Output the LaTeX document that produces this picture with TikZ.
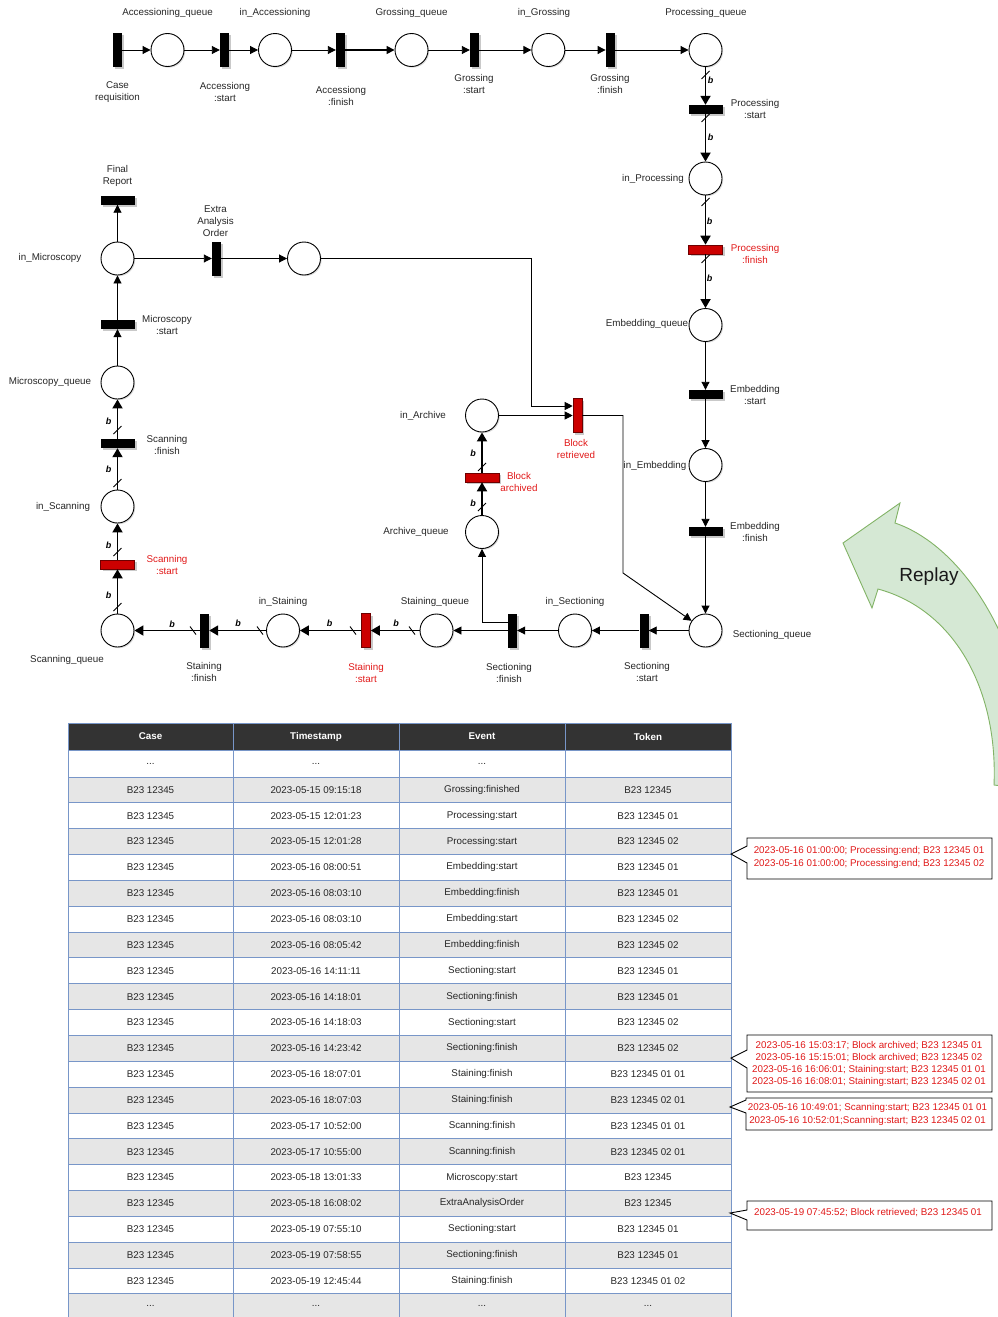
\documentclass[tikz,border=0pt]{standalone}
\usepackage{fontspec}
\setmainfont{Liberation Sans}
\usetikzlibrary{arrows.meta,shadows,calc}
\definecolor{redfill}{RGB}{204,0,0}
\definecolor{redline}{RGB}{110,0,0}
\definecolor{redtext}{RGB}{225,25,25}
\definecolor{gridblue}{RGB}{120,150,200}
\definecolor{hdr}{RGB}{51,51,51}
\definecolor{rowgray}{RGB}{230,230,230}
\definecolor{repfill}{RGB}{213,232,212}
\definecolor{repline}{RGB}{130,179,102}
\tikzset{
 sh/.style={drop shadow={shadow xshift=2pt,shadow yshift=-2pt,opacity=0.3,fill=black!70}},
 psh/.style={drop shadow={shadow xshift=1.2pt,shadow yshift=-1.2pt,opacity=0.2,fill=black!70}},
 place/.style={circle,draw,fill=white,minimum size=33pt,inner sep=0pt,line width=0.9pt,psh},
 tv/.style={rectangle,fill=black,minimum width=9pt,minimum height=34pt,inner sep=0pt,sh},
 th/.style={rectangle,fill=black,minimum width=34pt,minimum height=9pt,inner sep=0pt,sh},
 rtr/.style={fill=redfill,draw=redline,line width=0.6pt},
 lab/.style={font=\fontsize{9.8}{12}\selectfont,align=center,inner sep=0pt,text=black!85},
 rlab/.style={lab,text=redtext},
 blab/.style={font=\fontsize{9}{10}\selectfont\bfseries\itshape,inner sep=0pt},
 arc/.style={line width=0.9pt,-{Triangle[length=8pt,width=8pt]}},
 barc/.style={line width=1.8pt,-{Triangle[length=9pt,width=10pt]}},
 slashln/.style={line width=0.9pt},
 cell/.style={font=\fontsize{9.8}{12}\selectfont,inner sep=0pt,text=black!85},
 hcell/.style={font=\fontsize{9.8}{12}\selectfont\bfseries,inner sep=0pt,text=white},
 ctext/.style={font=\fontsize{9.8}{12.2}\selectfont,text=redtext,align=center,inner sep=0pt},
 callout/.style={draw=black,fill=white,line width=0.9pt},
}
\begin{document}
\begin{tikzpicture}[x=1pt,y=-1pt]
\useasboundingbox (0,0) rectangle (998,1317);
\clip (0,0) rectangle (998,1317);

% ---------- top row ----------
\node[tv] (cr) at (117.5,50) {};
\node[place] (aq) at (167.5,50) {};
\node[tv] (as) at (224.5,50) {};
\node[place] (ia) at (275,50) {};
\node[tv] (af) at (340.5,50) {};
\node[place] (gq) at (411.5,50) {};
\node[tv] (gs) at (474.5,50) {};
\node[place] (ig) at (548.3,50) {};
\node[tv] (gf) at (610.3,50) {};
\node[place] (pq) at (705.5,50) {};
% ---------- right column ----------
\node[th] (ps) at (705.5,109.5) {};
\node[place] (ip) at (705.5,178.5) {};
\node[th,rtr] (pf) at (705.5,249.5) {};
\node[place] (eq) at (705.5,325) {};
\node[th] (es) at (705.5,394.5) {};
\node[place] (ie) at (705.5,465) {};
\node[th] (ef) at (705.5,531.5) {};
\node[place] (sq) at (705.5,630.5) {};
% ---------- bottom row ----------
\node[tv] (ss) at (644,630.5) {};
\node[place] (is) at (575,630.5) {};
\node[tv] (sf) at (512.5,630.5) {};
\node[place] (stq) at (436.5,630.5) {};
\node[tv,rtr] (sts) at (366,630.5) {};
\node[place] (ist) at (283,630.5) {};
\node[tv] (stf) at (204.5,630.5) {};
\node[place] (scq) at (117.5,630.5) {};
% ---------- left column ----------
\node[th,rtr] (scs) at (117.5,564.5) {};
\node[place] (isc) at (117.5,506.5) {};
\node[th] (scf) at (117.5,443.5) {};
\node[place] (mq) at (117.5,382.5) {};
\node[th] (ms) at (117.5,324.5) {};
\node[place] (im) at (117.5,258.5) {};
\node[th] (fr) at (117.5,200) {};
\node[tv] (eao) at (216.5,258.5) {};
\node[place] (px) at (304,258.5) {};
% ---------- archive ----------
\node[place] (ina) at (482,415.5) {};
\node[th,rtr] (ba) at (482,477.5) {};
\node[place] (arq) at (482,532) {};
\node[tv,rtr] (br) at (577.5,415.5) {};

% ---------- connectors ----------
\draw[arc] (cr) -- (aq);
\draw[arc] (aq) -- (as);
\draw[arc] (as) -- (ia);
\draw[arc] (ia) -- (af);
\draw[arc,line width=1.6pt] (af) -- (gq);
\draw[arc] (gq) -- (gs);
\draw[arc] (gs) -- (ig);
\draw[arc] (ig) -- (gf);
\draw[arc] (gf) -- (pq);
\draw[barc] (pq) -- (ps);
\draw[barc] (ps) -- (ip);
\draw[barc] (ip) -- (pf);
\draw[barc] (pf) -- (eq);
\draw[arc] (eq) -- (es);
\draw[arc] (es) -- (ie);
\draw[arc] (ie) -- (ef);
\draw[arc] (ef) -- (sq);
\draw[arc] (sq) -- (ss);
\draw[arc] (ss) -- (is);
\draw[arc] (is) -- (sf);
\draw[arc] (sf) -- (stq);
\draw[barc] (stq) -- (sts);
\draw[barc] (sts) -- (ist);
\draw[barc] (ist) -- (stf);
\draw[barc] (stf) -- (scq);
\draw[barc] (scq) -- (scs);
\draw[barc] (scs) -- (isc);
\draw[barc] (isc) -- (scf);
\draw[barc] (scf) -- (mq);
\draw[arc] (mq) -- (ms);
\draw[arc] (ms) -- (im);
\draw[arc] (im) -- (fr);
\draw[arc] (im) -- (eao);
\draw[arc] (eao) -- (px);
\coordinate (k1) at (531,406);
\draw[arc] (px.east) -| (k1) -- (k1 -| br.west);
\draw[arc] (ina) -- (br);
\coordinate (k2) at (623,415.5);
\coordinate (k3) at (623,573);
\draw[arc] (br.east) -- (k2) -- (k3) -- (sq);
\draw[arc] ([yshift=8pt]sf.west) -| (arq.south);
\draw[barc] (arq) -- (ba);
\draw[barc] (ba) -- (ina);

% ---------- slashes ----------
\foreach \x/\y in {705.5/75,705.5/118,705.5/202,705.5/259,117.5/607,117.5/552,117.5/483,117.5/430,482/507,482/467}
  \draw[slashln] (\x-4,\y+4) -- (\x+4,\y-4);
\foreach \x/\y in {193/630.5,260/630.5,353/630.5,412/630.5}
  \draw[slashln] (\x-3,\y-4) -- (\x+3,\y+4);

% ---------- b labels ----------
\node[blab] (b1) at (710.5,80) {b};
\node[blab] (b2) at (710.5,137) {b};
\node[blab] (b3) at (709.5,221) {b};
\node[blab] (b4) at (709.5,278) {b};
\node[blab] (b5) at (108.5,595) {b};
\node[blab] (b6) at (108.5,545) {b};
\node[blab] (b7) at (108.5,469) {b};
\node[blab] (b8) at (108.5,421) {b};
\node[blab] (b9) at (473,503) {b};
\node[blab] (b10) at (473,453.5) {b};
\node[blab] (b11) at (172,624) {b};
\node[blab] (b12) at (238,623.5) {b};
\node[blab] (b13) at (329.5,623.5) {b};
\node[blab] (b14) at (396,623.5) {b};

% ---------- labels ----------
\node[lab] (l1) at (167.5,13) {Accessioning\_queue};
\node[lab] (l2) at (275,13) {in\_Accessioning};
\node[lab] (l3) at (411.5,13) {Grossing\_queue};
\node[lab] (l4) at (544,13) {in\_Grossing};
\node[lab] (l5) at (706,13) {Processing\_queue};
\node[lab] (l6) at (117.5,92) {Case\\requisition};
\node[lab] (l7) at (225,92) {Accessiong\\:start};
\node[lab] (l8) at (341,96) {Accessiong\\:finish};
\node[lab] (l9) at (474,83.5) {Grossing\\:start};
\node[lab] (l10) at (610,83.5) {Grossing\\:finish};
\node[lab] (l11) at (755,109) {Processing\\:start};
\node[lab] (l12) at (653,179) {in\_Processing};
\node[rlab] (l13) at (755,254) {Processing\\:finish};
\node[lab] (l14) at (647,324) {Embedding\_queue};
\node[lab] (l15) at (755,395) {Embedding\\:start};
\node[lab] (l16) at (655,465.5) {in\_Embedding};
\node[lab] (l17) at (755,531.5) {Embedding\\:finish};
\node[lab] (l18) at (772,635) {Sectioning\_queue};
\node[lab] (l19) at (283,602) {in\_Staining};
\node[lab] (l20) at (435,602) {Staining\_queue};
\node[lab] (l21) at (575,602) {in\_Sectioning};
\node[rlab] (l22) at (366,673) {Staining\\:start};
\node[lab] (l23) at (509,673) {Sectioning\\:finish};
\node[lab] (l24) at (647,672) {Sectioning\\:start};
\node[lab] (l25) at (204,672) {Staining\\:finish};
\node[lab] (l26) at (67,660) {Scanning\_queue};
\node[lab] (l27) at (50,382) {Microscopy\_queue};
\node[lab] (l28) at (167,445) {Scanning\\:finish};
\node[lab] (l29) at (63,507) {in\_Scanning};
\node[rlab] (l30) at (167,565) {Scanning\\:start};
\node[lab] (l31) at (167,325) {Microscopy\\:start};
\node[lab] (l32) at (50,258) {in\_Microscopy};
\node[lab] (l33) at (117.5,175.5) {Final\\Report};
\node[lab] (l34) at (215.5,221) {Extra\\Analysis\\Order};
\node[lab] (l35) at (423,416) {in\_Archive};
\node[rlab] (l36) at (519,482) {Block\\archived};
\node[rlab] (l37) at (576,448.5) {Block\\retrieved};
\node[lab] (l38) at (416,532) {Archive\_queue};

% ---------- replay arrow ----------
\draw[fill=repfill,draw=repline,line width=0.9pt] (843,543) -- (900,503) -- (895,523)
  .. controls (960,545) and (1030,640) .. (1035,790) -- (994,785)
  .. controls (998,690) and (955,610) .. (878,589) -- (872,608) -- cycle;
\node[font=\fontsize{19}{22}\selectfont,inner sep=0pt,text=black!90] (rep) at (929,577) {Replay};

% ---------- table ----------
\fill[hdr] (68,723) rectangle (731,750);
\foreach \k in {2,4,...,22}
  \fill[rowgray] (68,{777+(\k-2)*25.84}) rectangle (731,{777+(\k-1)*25.84});
\draw[gridblue,line width=0.8pt] (68,723) -- (731,723);
\draw[gridblue,line width=0.8pt] (68,750) -- (731,750);
\foreach \k in {1,...,21}
  \draw[gridblue,line width=0.8pt] (68,{777+(\k-1)*25.84}) -- (731,{777+(\k-1)*25.84});
\foreach \x in {68,233,399,565,731}
  \draw[gridblue,line width=0.8pt] (\x,723) -- (\x,1322);
\node[hcell] (h1) at (150.5,736.5) {Case};
\node[hcell] (h2) at (316,736.5) {Timestamp};
\node[hcell] (h3) at (482,736.5) {Event};
\node[hcell] (h4) at (648,736.5) {Token};
\node[cell] (t1a) at (150.5,763.5) {...};
\node[cell] (t1b) at (316,763.5) {...};
\node[cell] (t1c) at (482,763.5) {...};
\foreach \k/\ca/\cb/\cc/\cd in {
 2/B23 12345/2023-05-15 09:15:18/Grossing:finished/B23 12345,
 3/B23 12345/2023-05-15 12:01:23/Processing:start/B23 12345 01,
 4/B23 12345/2023-05-15 12:01:28/Processing:start/B23 12345 02,
 5/B23 12345/2023-05-16 08:00:51/Embedding:start/B23 12345 01,
 6/B23 12345/2023-05-16 08:03:10/Embedding:finish/B23 12345 01,
 7/B23 12345/2023-05-16 08:03:10/Embedding:start/B23 12345 02,
 8/B23 12345/2023-05-16 08:05:42/Embedding:finish/B23 12345 02,
 9/B23 12345/2023-05-16 14:11:11/Sectioning:start/B23 12345 01,
 10/B23 12345/2023-05-16 14:18:01/Sectioning:finish/B23 12345 01,
 11/B23 12345/2023-05-16 14:18:03/Sectioning:start/B23 12345 02,
 12/B23 12345/2023-05-16 14:23:42/Sectioning:finish/B23 12345 02,
 13/B23 12345/2023-05-16 18:07:01/Staining:finish/B23 12345 01 01,
 14/B23 12345/2023-05-16 18:07:03/Staining:finish/B23 12345 02 01,
 15/B23 12345/2023-05-17 10:52:00/Scanning:finish/B23 12345 01 01,
 16/B23 12345/2023-05-17 10:55:00/Scanning:finish/B23 12345 02 01,
 17/B23 12345/2023-05-18 13:01:33/Microscopy:start/B23 12345,
 18/B23 12345/2023-05-18 16:08:02/ExtraAnalysisOrder/B23 12345,
 19/B23 12345/2023-05-19 07:55:10/Sectioning:start/B23 12345 01,
 20/B23 12345/2023-05-19 07:58:55/Sectioning:finish/B23 12345 01,
 21/B23 12345/2023-05-19 12:45:44/Staining:finish/B23 12345 01 02}
{
  \node[cell] (t\k a) at (150.5,{777+(\k-2)*25.84+12.92}) {\ca};
  \node[cell] (t\k b) at (316,{777+(\k-2)*25.84+12.92}) {\cb};
  \node[cell] (t\k c) at (482,{777+(\k-2)*25.84+12.92}) {\cc};
  \node[cell] (t\k d) at (648,{777+(\k-2)*25.84+12.92}) {\cd};
}
\node[cell] (t22a) at (150.5,1306.1) {...};
\node[cell] (t22b) at (316,1306.1) {...};
\node[cell] (t22c) at (482,1306.1) {...};
\node[cell] (t22d) at (648,1306.1) {...};

% ---------- callouts ----------
\draw[callout] (747,838) -- (992,838) -- (992,879) -- (747,879) -- (747,863) -- (731,854) -- (747,846) -- cycle;
\node[ctext] (n1) at (869,857.5) {2023-05-16 01:00:00; Processing:end; B23 12345 01\\2023-05-16 01:00:00; Processing:end; B23 12345 02};
\draw[callout] (747,1035) -- (992,1035) -- (992,1092) -- (747,1092) -- (747,1068) -- (731,1058) -- (747,1050) -- cycle;
\node[ctext] (n2) at (869,1064) {2023-05-16 15:03:17; Block archived; B23 12345 01\\2023-05-16 15:15:01; Block archived; B23 12345 02\\2023-05-16 16:06:01; Staining:start; B23 12345 01 01\\2023-05-16 16:08:01; Staining:start; B23 12345 02 01};
\draw[callout] (746,1098) -- (992,1098) -- (992,1130) -- (746,1130) -- (746,1113) -- (730,1107) -- (746,1100) -- cycle;
\node[ctext] (n3) at (867.5,1114.5) {2023-05-16 10:49:01; Scanning:start; B23 12345 01 01\\2023-05-16 10:52:01;Scanning:start; B23 12345 02 01};
\draw[callout] (747,1201) -- (992,1201) -- (992,1230) -- (747,1230) -- (747,1220) -- (730,1213) -- (747,1210) -- cycle;
\node[ctext] (n4) at (868,1213) {2023-05-19 07:45:52; Block retrieved; B23 12345 01};
\end{tikzpicture}
\end{document}
